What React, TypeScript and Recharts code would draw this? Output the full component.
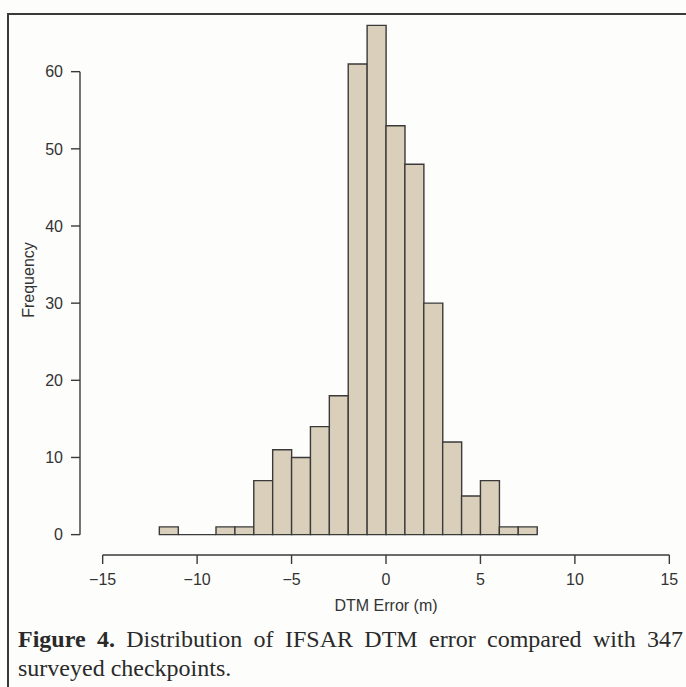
import { BarChart, Bar, XAxis, YAxis, ReferenceLine } from 'recharts';

// histogram bins of width 1 m, start edge of each bin
const BIN_STARTS = [-12, -11, -10, -9, -8, -7, -6, -5, -4, -3, -2, -1, 0, 1, 2, 3, 4, 5, 6, 7];
const COUNTS = [1, 0, 0, 1, 1, 7, 11, 10, 14, 18, 61, 66, 53, 48, 30, 12, 5, 7, 1, 1];
const X_TICKS = [-15, -10, -5, 0, 5, 10, 15];
const Y_TICKS = [0, 10, 20, 30, 40, 50, 60];

const data = BIN_STARTS.map((start, i) => ({ mid: start + 0.5, count: COUNTS[i] }));

// R-style 4% padding around the axis ranges
const X_DOMAIN: [number, number] = [-16.2, 16.2];
const Y_DOMAIN: [number, number] = [-2.64, 68.64];

const INK = '#3a3a3a';
const FILL = '#d9cfbb';
const SANS = '"Liberation Sans", Arial, sans-serif';
const SERIF = '"Liberation Serif", "Times New Roman", serif';

function HistBar(props: any) {
  const { x, y, width, height } = props;
  if (x == null || y == null) return null;
  const h = Math.max(height || 0, 0);
  const d = `M${x},${y + h} L${x},${y} L${x + width},${y} L${x + width},${y + h} Z`;
  return <path d={d} fill={FILL} stroke={INK} strokeWidth={1.4} />;
}

function FreqLabel(props: any) {
  const vb = props.viewBox || {};
  const cx = 34;
  const cy = (vb.y ?? 5) + (vb.height ?? 550) / 2;
  return (
    <text
      x={cx}
      y={cy}
      transform={`rotate(-90 ${cx} ${cy})`}
      textAnchor="middle"
      fontSize={16}
      fill="#333"
      fontFamily={SANS}
    >
      Frequency
    </text>
  );
}

const captionStyle = {
  position: 'absolute' as const,
  left: 18,
  fontFamily: SERIF,
  fontSize: 24,
  lineHeight: '29px',
  color: '#2a2a2a',
};

export default function App() {
  return (
    <div
      style={{
        position: 'absolute',
        left: 0,
        top: 0,
        width: 686,
        height: 687,
        background: '#fdfdfb',
        overflow: 'hidden',
      }}
    >
      <div
        style={{
          position: 'absolute',
          left: 7,
          top: 13,
          width: 700,
          height: 700,
          borderLeft: `2px solid ${INK}`,
          borderTop: `2px solid ${INK}`,
        }}
      />
      <div style={{ position: 'absolute', left: 0, top: 0 }}>
        <BarChart
          width={700}
          height={620}
          data={data}
          margin={{ top: 5, right: 8, left: 8, bottom: 0 }}
          barCategoryGap={0}
          barGap={0}
        >
          <XAxis
            dataKey="mid"
            type="number"
            domain={X_DOMAIN}
            ticks={X_TICKS}
            allowDataOverflow
            height={65}
            axisLine={false}
            tickLine={{ stroke: INK, strokeWidth: 1.4 }}
            tickSize={9}
            tickMargin={10}
            tickFormatter={(v: number) => (v < 0 ? `\u2212${Math.abs(v)}` : `${v}`)}
            tick={{ fill: '#333', fontSize: 16, fontFamily: SANS }}
            label={{
              value: 'DTM Error (m)',
              position: 'insideBottom',
              offset: 9,
              fill: '#333',
              fontSize: 16,
              fontFamily: SANS,
            }}
          />
          <YAxis
            type="number"
            domain={Y_DOMAIN}
            ticks={Y_TICKS}
            allowDataOverflow
            width={72}
            axisLine={false}
            tickLine={{ stroke: INK, strokeWidth: 1.4 }}
            tickSize={9}
            tickMargin={8}
            tick={{ fill: '#333', fontSize: 16, fontFamily: SANS }}
            label={{ content: FreqLabel }}
          />
          <ReferenceLine
            segment={[
              { x: X_DOMAIN[0], y: Y_TICKS[0] },
              { x: X_DOMAIN[0], y: Y_TICKS[Y_TICKS.length - 1] },
            ]}
            stroke={INK}
            strokeWidth={1.4}
            ifOverflow="visible"
          />
          <ReferenceLine
            segment={[
              { x: X_TICKS[0], y: Y_DOMAIN[0] },
              { x: X_TICKS[X_TICKS.length - 1], y: Y_DOMAIN[0] },
            ]}
            stroke={INK}
            strokeWidth={1.4}
            ifOverflow="visible"
          />
          <Bar dataKey="count" shape={HistBar} isAnimationActive={false} />
        </BarChart>
      </div>
      <div style={{ ...captionStyle, top: 625, width: 665, textAlign: 'justify', textAlignLast: 'justify' }}>
        <b>Figure 4.</b> Distribution of IFSAR DTM error compared with 347
      </div>
      <div style={{ ...captionStyle, top: 654 }}>surveyed checkpoints.</div>
    </div>
  );
}
